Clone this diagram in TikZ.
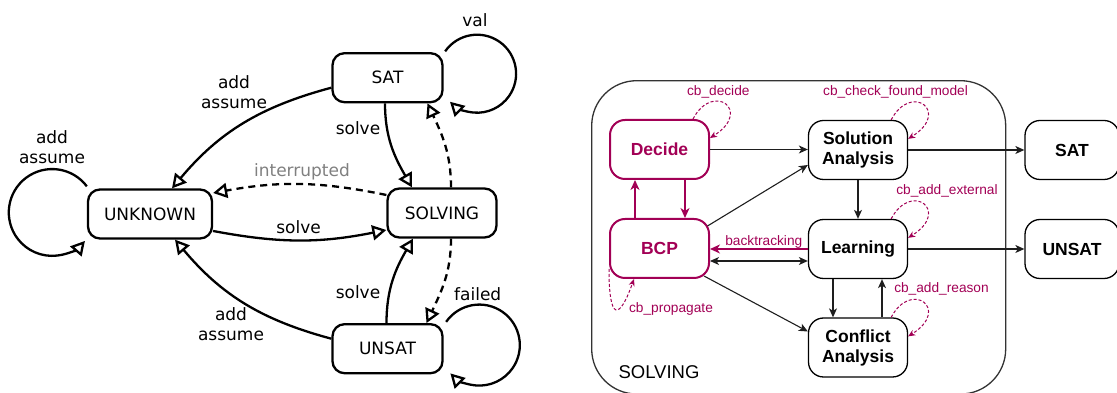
\documentclass[tikz,border=0pt]{standalone}
\usepackage{fontspec}
\setmainfont{Liberation Sans}
\newfontfamily\dejavu{DejaVu Sans}
\usetikzlibrary{arrows.meta}
\definecolor{mag}{RGB}{162,0,85}
\definecolor{framegray}{RGB}{51,51,51}
\definecolor{edgegray}{RGB}{30,30,30}
\definecolor{labelgray}{RGB}{128,128,128}

\begin{document}
\begin{tikzpicture}[x=1pt,y=1pt,
  lstate/.style={draw, line width=2.3pt, rounded corners=12pt, inner sep=0pt,
    minimum height=49pt, font=\dejavu\fontsize{17}{20}\selectfont},
  ledge/.style={line width=2.3pt,
    -{Triangle[length=14pt,width=15pt,fill=white,line width=2.3pt]}},
  ldash/.style={ledge, dash pattern=on 7pt off 5pt},
  ltext/.style={font=\dejavu\fontsize{17}{20}\selectfont, align=center, inner sep=0pt},
  rstate/.style={draw, line width=1.3pt, rounded corners=15pt, inner sep=0pt,
    minimum width=99pt, minimum height=59pt, align=center,
    font=\bfseries\fontsize{17.5}{20}\selectfont},
  mstate/.style={rstate, draw=mag, text=mag, line width=2pt},
  redge/.style={draw=edgegray, line width=1.1pt,
    -{Stealth[length=9pt,width=8pt,inset=2.5pt]}},
  rboth/.style={draw=edgegray, line width=1.1pt,
    {Stealth[length=9pt,width=8pt,inset=2.5pt]}-{Stealth[length=9pt,width=8pt,inset=2.5pt]}},
  medge/.style={draw=mag, line width=2pt,
    -{Stealth[length=10pt,width=9pt,inset=3pt]}},
  cbloop/.style={draw=mag, line width=1pt, dash pattern=on 3pt off 2pt,
    -{Stealth[length=7pt,width=6pt,inset=2pt]}},
  cbtext/.style={text=mag, inner sep=0pt, font=\fontsize{13.7}{16}\selectfont},
]
\useasboundingbox (0,0) rectangle (1117,393);
\clip (0,0) rectangle (1117,393);

% ---------- solver states ----------
\node[lstate, minimum width=124pt] (unk)   at (150,179)     {UNKNOWN};
\node[lstate, minimum width=110pt] (sat)   at (387.5,315.3) {SAT};
\node[lstate, minimum width=109pt] (solv)  at (442,180)     {SOLVING};
\node[lstate, minimum width=110pt] (unsat) at (387.5,44.3)  {UNSAT};

\draw[ledge] ([yshift=-10pt]sat.west) to[out=195,in=50] ([xshift=22pt]unk.north);
\draw[ledge] ([yshift=10pt]unsat.west) to[out=165,in=-50] ([xshift=25pt]unk.south);
\draw[ledge] ([yshift=-17pt]unk.east) to[bend right=11] ([yshift=-17pt]solv.west);
\draw[ldash] ([yshift=18pt]solv.west) to[bend right=11] ([yshift=21pt]unk.east);
\draw[ledge] ([xshift=-2.5pt]sat.south) to[out=-90,in=120] ([xshift=-30pt]solv.north);
\draw[ldash] ([xshift=9pt]solv.north) to[out=90,in=-65] ([xshift=40pt]sat.south);
\draw[ledge] ([xshift=-1pt]unsat.north) to[out=90,in=-120] ([xshift=-29pt]solv.south);
\draw[ldash] ([xshift=9pt]solv.south) to[out=-90,in=65] ([xshift=39pt]unsat.north);

% self loops
\draw[ledge] ([yshift=2pt]unk.north west) arc[start angle=37, end angle=319, radius=43.4];
\draw[ledge] ([shift={(1.5pt,0.7pt)}]sat.north east) arc[start angle=145, end angle=-134, radius=39];
\draw[ledge] ([shift={(2.5pt,1.2pt)}]unsat.north east) arc[start angle=145, end angle=-135.6, radius=40.5];

% transition labels
\node[ltext] (lab-loop)  at (52,245.5)   {add\\assume};
\node[ltext] (lab-up)    at (234,301)    {add\\assume};
\node[ltext] (lab-down)  at (231,69)     {add\\assume};
\node[ltext] (lab-val)   at (475,373)    {val};
\node[ltext] (lab-fail)  at (477.7,99)   {failed};
\node[ltext] (lab-s1)    at (358,264.7)  {solve};
\node[ltext] (lab-s2)    at (358,101.3)  {solve};
\node[ltext] (lab-s3)    at (298.6,166.3){solve};
\node[ltext, text=labelgray] (lab-int) at (302,221.3) {interrupted};

% ---------- inside SOLVING ----------
\node[draw=framegray, line width=1.3pt, rounded corners=45pt, inner sep=0pt,
      minimum width=414pt, minimum height=313.3pt] (frame) at (798.7,155.65) {};
\node[inner sep=0pt, font=\fontsize{18.5}{22}\selectfont] (frame-title) at (659,20.7) {SOLVING};

\node[mstate] (decide) at (659.5,243.5) {Decide};
\node[mstate] (bcp)    at (659.5,144.5) {BCP};
\node[rstate] (sol)    at (858,243)     {Solution\\Analysis};
\node[rstate] (learn)  at (858,144)     {Learning};
\node[rstate] (conf)   at (858,45.5)    {Conflict\\Analysis};
\node[rstate, minimum width=94pt] (rsat)   at (1072,243) {SAT};
\node[rstate, minimum width=94pt] (runsat) at (1072,144) {UNSAT};

\draw[redge] (decide.east) -- (decide.east -| sol.west);
\draw[redge] (sol.east) -- (sol.east -| rsat.west);
\draw[redge] (learn.east) -- (learn.east -| runsat.west);
\draw[redge] (sol.south) -- (learn.north);
\draw[redge] ([xshift=-25pt]learn.south) -- ([xshift=-25pt]conf.north);
\draw[redge] ([xshift=24pt]conf.north) -- ([xshift=24pt]learn.south);
\draw[rboth] ([yshift=-12.5pt]bcp.east) -- ([yshift=-12.5pt]bcp.east -| learn.west);
\draw[redge] ([shift={(-2.5pt,-8pt)}]bcp.north east) -- ([yshift=-15pt]sol.west);
\draw[redge] ([shift={(-6pt,3pt)}]bcp.south east) -- ([yshift=16pt]conf.west);
\draw[medge] (learn.west) -- (learn.west -| bcp.east);
\draw[medge] ([xshift=-24.5pt]bcp.north) -- ([xshift=-24.5pt]decide.south);
\draw[medge] ([xshift=25.5pt]decide.south) -- ([xshift=25.5pt]bcp.north);

% callback loops
\foreach \n in {decide,sol,learn,conf}{
  \draw[cbloop] ([xshift=-17pt]\n.north east)
    .. controls ([shift={(3pt,38pt)}]\n.north east) and ([shift={(43pt,8pt)}]\n.north east)
    .. ([yshift=-19pt]\n.north east);
}
\draw[cbloop] ([yshift=10pt]bcp.south west)
  .. controls ([shift={(0pt,-42pt)}]bcp.south west) and ([shift={(10pt,-42pt)}]bcp.south west)
  .. ([xshift=25pt]bcp.south west);

\node[cbtext] (cb-decide) at (718.3,301.3) {cb\_decide};
\node[cbtext] (cb-model)  at (895.5,300.7) {cb\_check\_found\_model};
\node[cbtext] (cb-ext)    at (947,202.3)   {cb\_add\_external};
\node[cbtext] (cb-reason) at (941.5,103.7) {cb\_add\_reason};
\node[cbtext] (cb-prop)   at (671,83.7)    {cb\_propagate};
\node[cbtext] (cb-bt)     at (763.8,151.3) {backtracking};
\end{tikzpicture}
\end{document}
